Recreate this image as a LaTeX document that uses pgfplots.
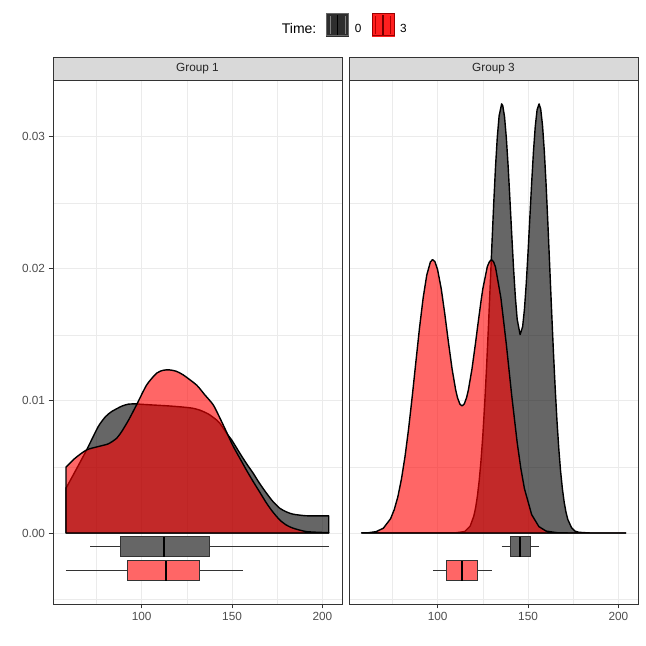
\documentclass[border=0pt]{standalone}
\usepackage{fontspec}
\setmainfont{Liberation Sans}
\usepackage{pgfplots}
\pgfplotsset{compat=1.18}
\usepgfplotslibrary{statistics}
\definecolor{gridc}{HTML}{EBEBEB}
\definecolor{frame}{HTML}{333333}
\definecolor{ticklab}{HTML}{4D4D4D}
\definecolor{stripc}{HTML}{D9D9D9}
\definecolor{greyfill}{RGB}{102,102,102}
\definecolor{redfill}{RGB}{255,102,102}

\pgfplotstableread{
x y
58.2 0.00339
63.2 0.00465
69.6 0.00629
76 0.00805
80 0.00880
83.4 0.00919
89 0.00960
92.6 0.00975
97.2 0.00978
99.1 0.00975
105 0.00970
110 0.00966
115 0.00962
123 0.00953
128 0.00945
132.2 0.00930
137 0.00900
141.4 0.00856
143.3 0.00830
147 0.00755
150 0.00700
154.3 0.00604
158 0.00525
161.7 0.00452
165 0.00380
169.1 0.00300
172.5 0.00240
176.4 0.00187
180 0.00160
183.8 0.00142
191.2 0.00130
203.5 0.00129
}\gA
\pgfplotstableread{
x y
58.2 0.00498
63.2 0.00566
69.6 0.00629
76 0.00654
81.6 0.00675
86 0.00715
89 0.00768
93 0.00860
97.2 0.00970
102.8 0.01121
108.3 0.01210
112 0.01232
115.3 0.01235
119 0.01225
123 0.01197
130.4 0.01120
135 0.01045
139.6 0.00970
143.3 0.00870
147 0.00763
150.5 0.00660
154.3 0.00566
158 0.00475
161.7 0.00389
165.5 0.00305
169.1 0.00225
172.5 0.00160
176.4 0.00098
180 0.00060
183.8 0.00036
191.2 0.00010
203.5 0.00002
}\rA
\pgfplotstableread{
x y
58 0
110 0.00001
115 0.00011
118 0.00052
120 0.00127
121 0.00190
122 0.00279
123 0.00397
124 0.00549
125 0.00739
126 0.00969
127 0.01236
128 0.01533
129 0.01851
130 0.02176
131 0.02487
132 0.02768
133 0.02997
134 0.03158
135.4 0.03249
136 0.03237
137 0.03151
138 0.02991
139 0.02775
140 0.02521
141 0.02256
142 0.02001
143 0.01783
144 0.01618
145.6 0.01502
147 0.01561
148 0.01692
149 0.01886
150 0.02125
151 0.02388
152 0.02650
153 0.02888
154 0.03079
155 0.03204
156.1 0.03249
157 0.03210
158 0.03087
159 0.02890
160 0.02633
161 0.02334
162 0.02014
163 0.01691
164 0.01381
165 0.01098
166 0.00849
167 0.00639
168 0.00468
169 0.00334
170 0.00231
171 0.00156
172 0.00102
174 0.00041
176 0.00014
178 0.00005
184 0
204 0
}\gB
\pgfplotstableread{
x y
58 0
62 0.00002
66 0.00010
70 0.00036
74 0.00108
76 0.00176
78 0.00273
80 0.00408
82 0.00581
84 0.00794
86 0.01038
88 0.01298
90 0.01554
92 0.01780
94 0.01953
96 0.02052
97.2 0.02070
98.5 0.02055
100 0.01993
102 0.01849
104 0.01656
106 0.01442
108 0.01242
110 0.01082
111 0.01024
112.3 0.00976
113.5 0.00962
114.7 0.00976
116 0.01024
117 0.01082
119 0.01242
121 0.01442
122 0.01550
124 0.01756
125 0.01849
127.5 0.02018
128.7 0.02055
129.8 0.02070
131 0.02052
132 0.02013
135 0.01779
138 0.01428
141 0.01038
144 0.00684
146 0.00490
148 0.00336
152 0.00139
156 0.00048
160 0.00014
166 0.00002
172 0
204 0
}\rB

\pgfplotsset{panel/.style={
  anchor=south west, scale only axis, width=289pt, height=524pt,
  xmin=51, xmax=210.8, ymin=-0.00538, ymax=0.0343,
  xtick={100,150,200}, minor xtick={75,125,175},
  ytick={0,0.01,0.02,0.03}, minor ytick={-0.005,0.005,0.015,0.025},
  grid=both, major grid style={gridc, line width=0.9pt},
  minor grid style={gridc, line width=0.5pt},
  axis line style={frame, line width=0.8pt},
  tick align=outside, xtick pos=left, ytick pos=left,
  major tick length=4.5pt, minor tick length=0pt,
  tick style={frame, line width=0.8pt},
  ticklabel style={font=\fontsize{11.8}{13}\selectfont, text=ticklab},
  scaled y ticks=false,
  yticklabel style={/pgf/number format/.cd, fixed, fixed zerofill, precision=2},
  /pgf/number format/assume math mode=true,
  dens/.style={draw=black, line width=1.4pt, line join=round},
  boxplot/every median/.style={black, line width=2pt},
}}

\begin{document}
\begin{tikzpicture}
\path[use as bounding box] (0,0) rectangle (646pt,646pt);
\begin{axis}[panel, at={(53pt,42pt)},
  legend columns=3,
  legend style={at={(1.008,1.105)}, anchor=center, draw=none, fill=none,
    font=\fontsize{11.8}{13}\selectfont,
    /tikz/every even column/.append style={column sep=8pt}},
  legend cell align=left]
\addlegendimage{empty legend}
\addlegendentry{\fontsize{14}{15}\selectfont Time:\hspace{2pt}}
\addlegendimage{legend image code/.code={
  \fill[black!82] (0pt,-7pt) rectangle (22pt,15pt);
  \draw[black!50, line width=1.2pt] (3.5pt,-5pt) -- (3.5pt,13pt);
  \draw[black!50, line width=1.2pt] (18.5pt,-5pt) -- (18.5pt,13pt);
  \draw[black, line width=1.6pt] (11pt,-6pt) -- (11pt,14pt);
  \draw[black!60, line width=0.6pt] (0pt,-7pt) rectangle (22pt,15pt);}}
\addlegendentry{\hspace{4pt}0}
\addlegendimage{legend image code/.code={
  \fill[red!88!white] (0pt,-7pt) rectangle (22pt,15pt);
  \draw[red!70!black, line width=1.2pt] (3.5pt,-5pt) -- (3.5pt,13pt);
  \draw[red!70!black, line width=1.2pt] (18.5pt,-5pt) -- (18.5pt,13pt);
  \draw[red!45!black, line width=1.6pt] (11pt,-6pt) -- (11pt,14pt);
  \draw[red!60!black, line width=0.6pt] (0pt,-7pt) rectangle (22pt,15pt);}}
\addlegendentry{\hspace{4pt}3}
\addplot[dens, smooth, tension=0.4, fill=black, fill opacity=0.6] table {\gA} \closedcycle;
\addplot[dens, smooth, tension=0.4, fill=red, fill opacity=0.6] table {\rA} \closedcycle;
\addplot[boxplot prepared={lower whisker=71.5, lower quartile=88.4, median=112.5,
  upper quartile=137.3, upper whisker=203.5, draw position=-0.00104,
  box extend=0.00152, whisker extend=0, draw direction=x},
  draw=frame, fill=greyfill, line width=1pt] coordinates {};
\addplot[boxplot prepared={lower whisker=58, lower quartile=92.3, median=113.3,
  upper quartile=132.2, upper whisker=156.1, draw position=-0.00285,
  box extend=0.00152, whisker extend=0, draw direction=x},
  draw=frame, fill=redfill, line width=1pt] coordinates {};
\end{axis}
\begin{axis}[panel, at={(349pt,42pt)}, yticklabels={}, ytick style={draw=none}]
\addplot[dens, fill=black, fill opacity=0.6] table {\gB} \closedcycle;
\addplot[dens, fill=red, fill opacity=0.6] table {\rB} \closedcycle;
\addplot[boxplot prepared={lower whisker=135.4, lower quartile=140.1, median=145.6,
  upper quartile=151.2, upper whisker=156.1, draw position=-0.00104,
  box extend=0.00152, whisker extend=0, draw direction=x},
  draw=frame, fill=greyfill, line width=1pt] coordinates {};
\addplot[boxplot prepared={lower whisker=97.4, lower quartile=105.1, median=113.3,
  upper quartile=121.9, upper whisker=130, draw position=-0.00285,
  box extend=0.00152, whisker extend=0, draw direction=x},
  draw=frame, fill=redfill, line width=1pt] coordinates {};
\end{axis}
\draw[frame, fill=stripc, line width=0.8pt] (53pt,566pt) rectangle (342pt,589pt);
\draw[frame, fill=stripc, line width=0.8pt] (349pt,566pt) rectangle (638pt,589pt);
\node[font=\fontsize{11.8}{13}\selectfont, text=black!85] at (197.5pt,577.5pt) {Group 1};
\node[font=\fontsize{11.8}{13}\selectfont, text=black!85] at (493.5pt,577.5pt) {Group 3};
\end{tikzpicture}
\end{document}
